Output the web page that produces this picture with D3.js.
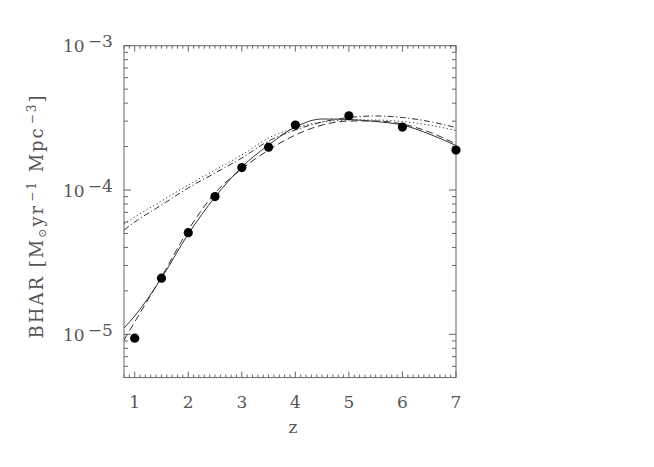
<!DOCTYPE html>
<html>
<head>
<meta charset="utf-8">
<script src="https://cdn.jsdelivr.net/npm/d3@7"></script>
<style>
  html, body { margin: 0; padding: 0; background: #fff; }
  svg { display: block; }
  text { font-family: "DejaVu Serif", "Liberation Serif", serif; fill: #555; }
</style>
</head>
<body>
<div id="chart"></div>
<script>
// model redshift grid and curves (BHAR, Msun/yr/Mpc^3)
const zGrid = [0.8, 1, 1.5, 2, 2.5, 3, 3.5, 4, 4.5, 5, 5.5, 6, 6.5, 7];
const solidModel = [1.106e-5, 1.339e-5, 2.456e-5, 4.955e-5, 8.94e-5, 1.443e-4, 2.05e-4, 2.733e-4, 3.105e-4, 3.08e-4, 2.983e-4, 2.82e-4, 2.444e-4, 2.034e-4];
const dashedModel = [9.13e-6, 1.217e-5, 2.495e-5, 5.28e-5, 9.53e-5, 1.398e-4, 1.893e-4, 2.405e-4, 2.82e-4, 3.007e-4, 3.007e-4, 2.866e-4, 2.522e-4, 2.084e-4];
const dottedModel = [5.81e-5, 6.5e-5, 8.39e-5, 1.083e-4, 1.376e-4, 1.748e-4, 2.293e-4, 2.69e-4, 2.959e-4, 3.055e-4, 3.055e-4, 2.983e-4, 2.82e-4, 2.583e-4];
const dashDotModel = [5.28e-5, 6.0e-5, 7.87e-5, 1.033e-4, 1.312e-4, 1.666e-4, 2.186e-4, 2.604e-4, 2.959e-4, 3.18e-4, 3.257e-4, 3.18e-4, 2.983e-4, 2.71e-4];

// measured points
const pointZ = [1, 1.5, 2, 2.5, 3, 3.5, 4, 5, 6, 7];
const pointBHAR = [9.4e-6, 2.45e-5, 5.06e-5, 9.0e-5, 1.43e-4, 1.98e-4, 2.82e-4, 3.27e-4, 2.73e-4, 1.89e-4];

const xTicks = [1, 2, 3, 4, 5, 6, 7];
const yTicks = [1e-5, 1e-4, 1e-3];
const yTickExp = ["\u22125", "\u22124", "\u22123"];

const SERIES = [
  { values: solidModel, dash: null },
  { values: dashedModel, dash: "7,4" },
  { values: dottedModel, dash: "1.2,2.6" },
  { values: dashDotModel, dash: "6,2.5,1.2,2.5" },
];

const width = 654;
const height = 467;
const frame = { left: 124, right: 456, top: 45.7, bottom: 377.6 };

const svg = d3.select("#chart")
  .append("svg")
  .attr("width", width)
  .attr("height", height);

const x = d3.scaleLinear().domain([0.8, 7]).range([frame.left, frame.right]);
const y = d3.scaleLog().domain([Math.pow(10, -5.3), 1e-3]).range([frame.bottom, frame.top]);

const axisColor = "#666";

// frame
svg.append("rect")
  .attr("x", frame.left)
  .attr("y", frame.top)
  .attr("width", frame.right - frame.left)
  .attr("height", frame.bottom - frame.top)
  .attr("fill", "none")
  .attr("stroke", axisColor)
  .attr("stroke-width", 1);

// x ticks, bottom and top, minor every 0.1
const xMinor = d3.range(8, 71).map((d) => d / 10).filter((d) => !xTicks.includes(d));
const tickG = svg.append("g").attr("stroke", axisColor).attr("stroke-width", 1);
xMinor.forEach((d) => {
  tickG.append("line").attr("x1", x(d)).attr("x2", x(d)).attr("y1", frame.bottom).attr("y2", frame.bottom - 3);
  tickG.append("line").attr("x1", x(d)).attr("x2", x(d)).attr("y1", frame.top).attr("y2", frame.top + 3);
});
xTicks.forEach((d) => {
  tickG.append("line").attr("x1", x(d)).attr("x2", x(d)).attr("y1", frame.bottom).attr("y2", frame.bottom - 6);
  tickG.append("line").attr("x1", x(d)).attr("x2", x(d)).attr("y1", frame.top).attr("y2", frame.top + 6);
});

// y ticks, left and right, minor at 2..9 per decade
const yMinor = [];
[-6, -5, -4].forEach((e) => {
  for (let m = 2; m <= 9; m++) {
    const v = m * Math.pow(10, e);
    if (v >= y.domain()[0] && v <= 1e-3) yMinor.push(v);
  }
});
yMinor.forEach((v) => {
  tickG.append("line").attr("x1", frame.left).attr("x2", frame.left + 4).attr("y1", y(v)).attr("y2", y(v));
  tickG.append("line").attr("x1", frame.right).attr("x2", frame.right - 4).attr("y1", y(v)).attr("y2", y(v));
});
yTicks.forEach((v) => {
  tickG.append("line").attr("x1", frame.left).attr("x2", frame.left + 7).attr("y1", y(v)).attr("y2", y(v));
  tickG.append("line").attr("x1", frame.right).attr("x2", frame.right - 7).attr("y1", y(v)).attr("y2", y(v));
});

// tick labels
xTicks.forEach((d) => {
  svg.append("text")
    .attr("x", x(d))
    .attr("y", 408)
    .attr("text-anchor", "middle")
    .attr("font-size", 17)
    .text(d);
});

yTicks.forEach((v, i) => {
  const t = svg.append("text")
    .attr("x", 63)
    .attr("y", y(v) + 6.5)
    .attr("font-size", 17);
  t.append("tspan").text("10");
  t.append("tspan").attr("dx", 3).attr("dy", -5).text(yTickExp[i]);
});

// axis titles
svg.append("text")
  .attr("x", (frame.left + frame.right) / 2 + 3)
  .attr("y", 433)
  .attr("text-anchor", "middle")
  .attr("font-size", 17)
  .text("z");

const ylab = svg.append("text")
  .attr("transform", "rotate(-90)")
  .attr("x", -216)
  .attr("y", 43)
  .attr("text-anchor", "middle")
  .attr("font-size", 18)
  .attr("letter-spacing", 2);
ylab.append("tspan").text("BHAR [M");
ylab.append("tspan").attr("font-size", 11).attr("dy", 3).text("\u2299");
ylab.append("tspan").attr("dy", -3).text("yr");
ylab.append("tspan").attr("font-size", 12).attr("dy", -7).attr("dx", 2).text("\u22121");
ylab.append("tspan").attr("dy", 7).text(" Mpc");
ylab.append("tspan").attr("font-size", 12).attr("dy", -7).attr("dx", 2).text("\u22123");
ylab.append("tspan").attr("dy", 7).text("]");

// curves
svg.append("clipPath").attr("id", "clip")
  .append("rect")
  .attr("x", frame.left)
  .attr("y", frame.top)
  .attr("width", frame.right - frame.left)
  .attr("height", frame.bottom - frame.top);

const line = d3.line()
  .x((d) => x(d[0]))
  .y((d) => y(d[1]))
  .curve(d3.curveMonotoneX);

const plot = svg.append("g").attr("clip-path", "url(#clip)");

SERIES.forEach((s) => {
  plot.append("path")
    .datum(zGrid.map((z, i) => [z, s.values[i]]))
    .attr("fill", "none")
    .attr("stroke", "#333")
    .attr("stroke-width", 1)
    .attr("stroke-dasharray", s.dash)
    .attr("d", line);
});

svg.append("g")
  .selectAll("circle")
  .data(pointZ.map((z, i) => [z, pointBHAR[i]]))
  .join("circle")
  .attr("cx", (d) => x(d[0]))
  .attr("cy", (d) => y(d[1]))
  .attr("r", 4.6)
  .attr("fill", "#000");
</script>
</body>
</html>
